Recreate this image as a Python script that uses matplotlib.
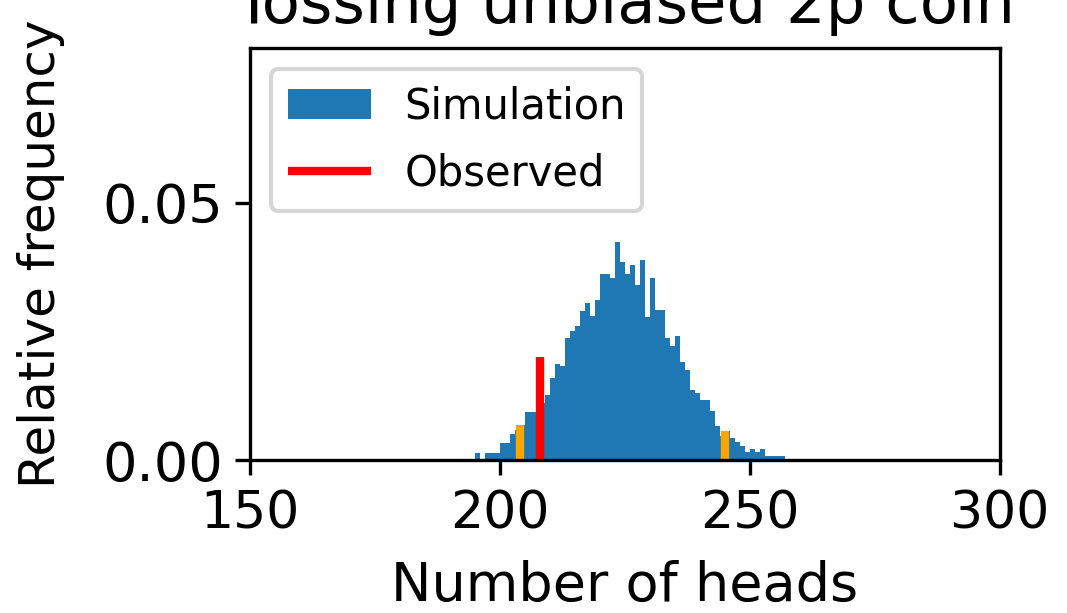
import numpy as np
import matplotlib
matplotlib.use("Agg")
import matplotlib.pyplot as plt

# simulated head counts (left bin edge) and their relative frequency
heads = [182, 185, 186, 195, 197, 198, 199, 200, 201, 202, 203, 204, 205, 206,
         207, 208, 209, 210, 211, 212, 213, 214, 215, 216, 217, 218, 219, 220,
         221, 222, 223, 224, 225, 226, 227, 228, 229, 230, 231, 232, 233, 234,
         235, 236, 237, 238, 239, 240, 241, 242, 243, 244, 245, 246, 247, 248,
         249, 250, 251, 252, 253, 254, 255, 256, 257, 260, 262, 267]
rel_freq = [0.0002, 0.0002, 0.0002, 0.0014, 0.0013, 0.0013, 0.0013, 0.0033,
            0.0033, 0.0050, 0.0058, 0.0068, 0.0094, 0.0094, 0.0094, 0.0110,
            0.0127, 0.0160, 0.0186, 0.0182, 0.0236, 0.0250, 0.0260, 0.0290,
            0.0305, 0.0280, 0.0310, 0.0361, 0.0361, 0.0354, 0.0423, 0.0384,
            0.0361, 0.0379, 0.0340, 0.0389, 0.0277, 0.0354, 0.0291, 0.0291,
            0.0236, 0.0222, 0.0240, 0.0190, 0.0175, 0.0136, 0.0131, 0.0117,
            0.0117, 0.0096, 0.0066, 0.0047, 0.0057, 0.0042, 0.0035, 0.0027,
            0.0016, 0.0022, 0.0016, 0.0022, 0.0008, 0.0008, 0.0008, 0.0008,
            0.0002, 0.0002, 0.0002, 0.0002]

observed = 208
observed_height = 0.02
interval = [204, 245]   # 2.5% / 97.5% cut-offs

freq_of = dict(zip(heads, rel_freq))
edges = np.arange(180, 271)

fig = plt.figure(figsize=(1067 / 300, 613 / 300), dpi=300)
ax = fig.add_axes([250 / 1067, 153 / 613, 750 / 1067, 412 / 613])

ax.hist(heads, bins=edges, weights=rel_freq, color="#1f77b4", label="Simulation")
ax.vlines(interval, 0, [freq_of[h] for h in interval], color="orange", lw=2)
ax.vlines(observed, 0, observed_height, color="red", lw=2, label="Observed")

ax.set_xlim(150, 300)
ax.set_ylim(0, 0.08)
ax.set_xticks([150, 200, 250, 300])
ax.set_yticks([0.0, 0.05])
ax.set_yticklabels(["0.00", "0.05"])
ax.tick_params(axis="x", labelsize=12.5)
ax.tick_params(axis="y", labelsize=13, pad=3)
ax.set_xlabel("Number of heads", fontsize=13, labelpad=5)
ax.set_ylabel("Relative frequency", fontsize=12, labelpad=9)
ax.set_title("Tossing unbiased 2p coin", fontsize=15)
ax.legend(loc="upper left", fontsize=10, labelspacing=0.6)

fig.savefig("out.png", dpi=300)
